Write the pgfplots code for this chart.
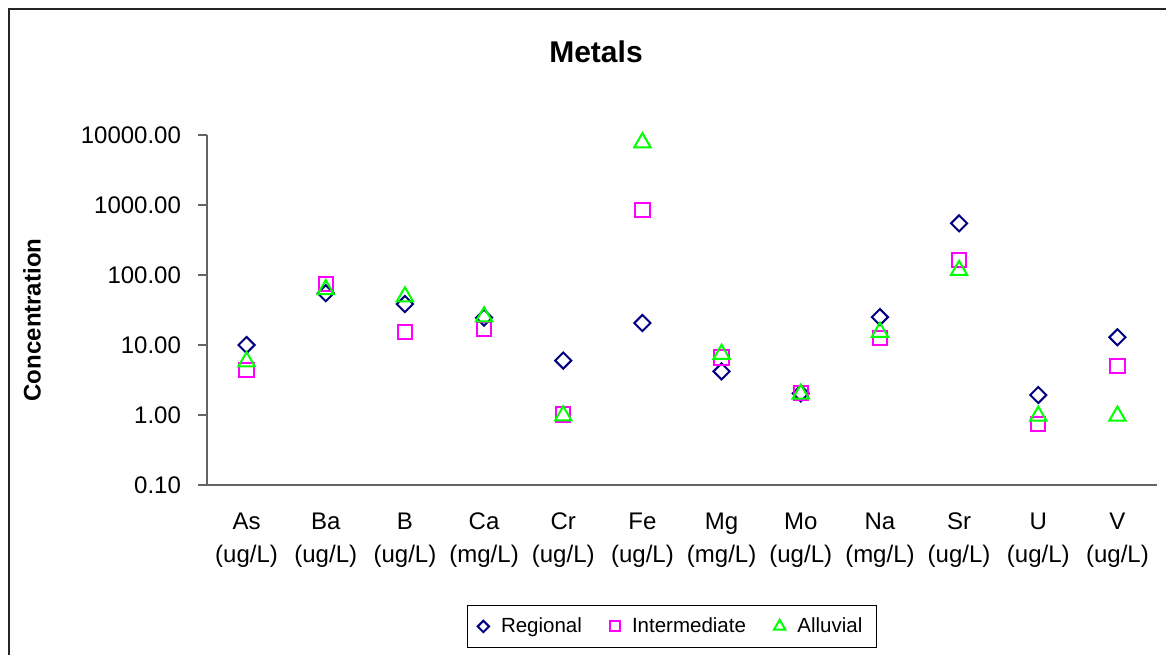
\documentclass[border=0pt]{standalone}
\usepackage{pgfplots}
\pgfplotsset{compat=1.18}
\usepackage{fontspec}
\setmainfont{Liberation Sans}

\definecolor{regional}{RGB}{0,0,128}
\definecolor{intermed}{RGB}{255,0,255}
\definecolor{alluvial}{RGB}{0,255,0}
\definecolor{axisgray}{RGB}{100,100,100}

\begin{document}
\begin{tikzpicture}
  % page is 1166 x 654 px at 0.5pt per px
  \useasboundingbox (0,0) rectangle (583pt,327pt);
  \draw[line width=0.9pt, black!85] (4.5pt,-2pt) -- (4.5pt,322.5pt) -- (590pt,322.5pt);

  \node[font=\bfseries\fontsize{15}{18}\selectfont] at (298pt,301pt) {Metals};
  \node[font=\bfseries\fontsize{12}{14}\selectfont, rotate=90] at (16pt,167pt) {Concentration};

  \begin{axis}[
      at={(103.5pt,84.5pt)}, anchor=south west,
      scale only axis, width=475pt, height=175pt,
      ymode=log, ymin=0.1, ymax=10000,
      xmin=0.5, xmax=12.5,
      axis x line*=bottom, axis y line*=left,
      axis line style={axisgray, line width=0.6pt},
      tick style={axisgray, line width=0.6pt},
      tick align=outside,
      ytick={0.1,1,10,100,1000,10000},
      yticklabels={0.10,1.00,10.00,100.00,1000.00,10000.00},
      yminorticks=false,
      major tick length=4.5pt,
      xtick={1,...,12},
      xticklabels={
        {As\\(ug/L)}, {Ba\\(ug/L)}, {B\\(ug/L)}, {Ca\\(mg/L)},
        {Cr\\(ug/L)}, {Fe\\(ug/L)}, {Mg\\(mg/L)}, {Mo\\(ug/L)},
        {Na\\(mg/L)}, {Sr\\(ug/L)}, {U\\(ug/L)}, {V\\(ug/L)}},
      x tick style={draw=none},
      minor xtick={0.5,1.5,...,12.5},
      minor tick length=5pt,
      minor x tick style={axisgray, line width=0.6pt},
      tick label style={font=\fontsize{12}{16.5}\selectfont},
      x tick label style={align=center, yshift=-6pt},
      y tick label style={xshift=-5pt},
      clip=false,
      legend columns=3,
      legend style={at={(0.4895,-0.404)}, anchor=center, draw=black, line width=0.5pt,
        font=\fontsize{10.25}{12}\selectfont, inner xsep=5pt, inner ysep=4pt,
        /tikz/every even column/.append style={column sep=12pt}},
      legend image post style={scale=0.7},
    ]
    \addplot[only marks, mark=square, mark size=2.85pt,
      mark options={draw=regional, rotate=45, line width=1pt}]
      coordinates {
        (1,10) (2,55) (3,38.5) (4,24.6) (5,6.0) (6,20.6)
        (7,4.2) (8,2.04) (9,25) (10,547) (11,1.93) (12,12.9)
      };
    \addplot[only marks, mark=square, mark size=3.6pt,
      mark options={draw=intermed, line width=1pt}]
      coordinates {
        (1,4.4) (2,74) (3,15.3) (4,17) (5,1.02) (6,850)
        (7,6.6) (8,2.07) (9,12.5) (10,164) (11,0.74) (12,5.0)
      };
    \addplot[only marks, mark=triangle, mark size=4.7pt,
      mark options={draw=alluvial, line width=1pt}]
      coordinates {
        (1,5.8) (2,62) (3,49) (4,25.4) (5,0.98) (6,7800)
        (7,7.4) (8,2.0) (9,15.3) (10,117) (11,0.97) (12,0.97)
      };
    \legend{\hspace{4pt}Regional, \hspace{4pt}Intermediate, \hspace{4pt}Alluvial}
  \end{axis}
\end{tikzpicture}
\end{document}
